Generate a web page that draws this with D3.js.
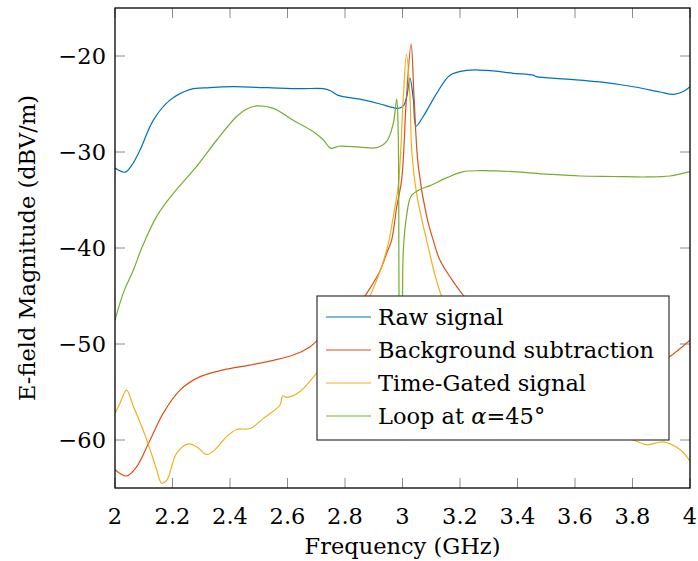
<!DOCTYPE html>
<html>
<head>
<meta charset="utf-8">
<script src="https://cdn.jsdelivr.net/npm/d3@7"></script>
<style>
  html, body { margin: 0; padding: 0; background: #fff; }
  svg { display: block; }
  text { font-family: "DejaVu Serif", "Liberation Serif", serif; fill: #000; }
</style>
</head>
<body>
<svg id="chart" width="698" height="561"></svg>
<script>
// ---- data ----
const xTicks = [2, 2.2, 2.4, 2.6, 2.8, 3, 3.2, 3.4, 3.6, 3.8, 4];
const yTicks = [-60, -50, -40, -30, -20];
const seriesNames = ["Raw signal", "Background subtraction", "Time-Gated signal", "Loop at α=45°"];
const seriesColors = ["#0072BD", "#D95319", "#EDB120", "#77AC30"];

const rawSignal = [[2.0,-31.67],[2.035,-32.1],[2.06,-31.3],[2.087,-29.8],[2.133,-26.7],[2.191,-24.6],[2.26,-23.5],[2.33,-23.3],[2.41,-23.2],[2.53,-23.3],[2.643,-23.4],[2.725,-23.4],[2.748,-23.6],[2.776,-24.1],[2.852,-24.5],[2.922,-25.0],[2.957,-25.3],[2.985,-25.45],[3.003,-25.2],[3.015,-24.2],[3.026,-22.3],[3.038,-24.6],[3.047,-27.3],[3.072,-26.3],[3.119,-23.9],[3.165,-22.0],[3.223,-21.5],[3.292,-21.5],[3.385,-21.8],[3.455,-22.0],[3.466,-22.15],[3.571,-22.4],[3.687,-22.7],[3.803,-23.2],[3.896,-23.75],[3.942,-24.0],[3.977,-23.7],[4.0,-23.2]];

const backgroundSub = [[2.0,-63.1],[2.04,-63.75],[2.075,-62.8],[2.116,-60.4],[2.168,-57.2],[2.226,-54.8],[2.296,-53.4],[2.377,-52.7],[2.47,-52.2],[2.551,-51.7],[2.62,-51.15],[2.678,-50.3],[2.713,-49.4],[2.76,-48.5],[2.82,-47],[2.876,-44.7],[2.92,-42.5],[2.945,-40.55],[2.962,-39.2],[2.98,-35.7],[2.997,-32.9],[3.014,-24.2],[3.03,-18.75],[3.04,-24.2],[3.055,-31.5],[3.084,-36.7],[3.107,-39.2],[3.13,-41.25],[3.188,-44.0],[3.211,-44.9],[3.3,-48],[3.4,-50],[3.5,-51.5],[3.6,-52.4],[3.7,-52.8],[3.8,-52.6],[3.9,-51.8],[3.93,-51.3],[4.0,-49.6]];

const timeGated = [[2.0,-57.2],[2.017,-56.2],[2.04,-54.8],[2.064,-56.5],[2.093,-58.6],[2.122,-61.0],[2.145,-63.1],[2.162,-64.5],[2.18,-64.2],[2.214,-61.4],[2.255,-60.4],[2.284,-60.7],[2.319,-61.5],[2.348,-61.0],[2.388,-59.65],[2.423,-58.9],[2.47,-58.8],[2.516,-57.75],[2.574,-56.35],[2.583,-55.4],[2.597,-55.55],[2.643,-54.97],[2.701,-53.05],[2.76,-51],[2.82,-48.5],[2.887,-45.0],[2.945,-40.2],[2.968,-36.7],[2.986,-33.3],[3.003,-24.2],[3.014,-19.8],[3.026,-24.2],[3.032,-29.8],[3.049,-34.3],[3.084,-39.2],[3.136,-45.0],[3.2,-48.5],[3.3,-52],[3.4,-54.5],[3.5,-56.5],[3.6,-58],[3.7,-59.2],[3.803,-60],[3.849,-60.5],[3.907,-60.2],[3.965,-61.0],[4.0,-62.2]];

const loop45 = [[2.0,-47.5],[2.03,-44.6],[2.064,-42.3],[2.093,-40.0],[2.145,-36.7],[2.203,-34.3],[2.284,-31.5],[2.354,-28.75],[2.423,-26.3],[2.46,-25.5],[2.493,-25.2],[2.551,-25.45],[2.62,-26.7],[2.69,-27.9],[2.725,-28.75],[2.75,-29.6],[2.78,-29.4],[2.852,-29.5],[2.91,-29.55],[2.945,-28.9],[2.968,-27.0],[2.98,-24.5],[2.985,-28],[2.988,-45],[2.993,-60],[2.998,-50],[3.0,-45],[3.003,-40.2],[3.014,-36.7],[3.03,-34.6],[3.06,-33.9],[3.096,-33.5],[3.153,-32.7],[3.211,-32.05],[3.27,-31.95],[3.385,-32.05],[3.501,-32.3],[3.617,-32.5],[3.733,-32.55],[3.849,-32.6],[3.93,-32.5],[4.0,-32.05]];

const allSeries = [rawSignal, backgroundSub, timeGated, loop45];

// ---- layout ----
const svg = d3.select("#chart");
const L = 115, R = 690, T = 8, B = 488;
const x = d3.scaleLinear().domain([2, 4]).range([L, R]);
const y = d3.scaleLinear().domain([-65, -15]).range([B, T]);
const tickLen = 10;
const fmt = v => String(v).replace("-", "\u2212");

svg.append("defs").append("clipPath").attr("id", "clip")
  .append("rect").attr("x", L).attr("y", T).attr("width", R - L).attr("height", B - T);

// ticks (inward, all sides)
const tickColor = "#8c8c8c";
const gT = svg.append("g");
xTicks.forEach(t => {
  gT.append("line").attr("x1", x(t)).attr("x2", x(t)).attr("y1", B).attr("y2", B - tickLen).attr("stroke", tickColor);
  gT.append("line").attr("x1", x(t)).attr("x2", x(t)).attr("y1", T).attr("y2", T + tickLen).attr("stroke", tickColor);
});
yTicks.forEach(t => {
  gT.append("line").attr("x1", L).attr("x2", L + tickLen).attr("y1", y(t)).attr("y2", y(t)).attr("stroke", tickColor);
  gT.append("line").attr("x1", R).attr("x2", R - tickLen).attr("y1", y(t)).attr("y2", y(t)).attr("stroke", tickColor);
});

// lines
const line = d3.line().x(d => x(d[0])).y(d => y(d[1])).curve(d3.curveCatmullRom.alpha(0.5));
const gL = svg.append("g").attr("clip-path", "url(#clip)");
allSeries.forEach((s, i) => {
  gL.append("path").datum(s).attr("d", line).attr("fill", "none")
    .attr("stroke", seriesColors[i]).attr("stroke-width", 1.2);
});

// frame
svg.append("rect").attr("x", L).attr("y", T).attr("width", R - L).attr("height", B - T)
  .attr("fill", "none").attr("stroke", "#000").attr("stroke-width", 1.3);

// tick labels
const fs = 22.5;
xTicks.forEach(t => {
  svg.append("text").attr("x", x(t)).attr("y", 524).attr("text-anchor", "middle")
    .attr("font-size", fs).text(fmt(t));
});
yTicks.forEach(t => {
  svg.append("text").attr("x", 106).attr("y", y(t)).attr("dy", "0.36em").attr("text-anchor", "end")
    .attr("font-size", fs).text(fmt(t));
});

// axis labels
svg.append("text").attr("x", (L + R) / 2).attr("y", 554).attr("text-anchor", "middle")
  .attr("font-size", fs).text("Frequency (GHz)");
svg.append("text").attr("transform", `translate(35, ${(T + B) / 2}) rotate(-90)`)
  .attr("text-anchor", "middle").attr("font-size", fs).text("E-field Magnitude (dBV/m)");

// legend
const lg = svg.append("g");
lg.append("rect").attr("x", 317).attr("y", 296).attr("width", 352).attr("height", 144)
  .attr("fill", "#fff").attr("stroke", "#333").attr("stroke-width", 1.2);
const rowsY = [317, 350, 383, 416];
seriesNames.forEach((n, i) => {
  lg.append("line").attr("x1", 326).attr("x2", 371).attr("y1", rowsY[i]).attr("y2", rowsY[i])
    .attr("stroke", seriesColors[i]).attr("stroke-width", 1.2);
  const t = lg.append("text").attr("x", 378).attr("y", rowsY[i]).attr("dy", "0.36em").attr("font-size", fs);
  if (i === 3) {
    t.append("tspan").text("Loop at ");
    t.append("tspan").attr("font-style", "italic").text("α");
    t.append("tspan").text("=45°");
  } else {
    t.text(n);
  }
});
</script>
</body>
</html>
